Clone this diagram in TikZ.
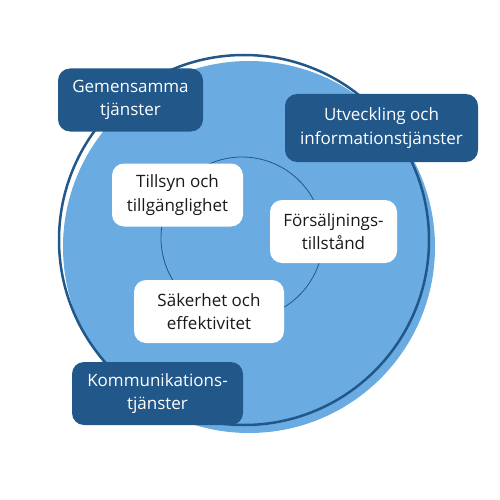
\documentclass[tikz,border=0pt]{standalone}
\usepackage{fontspec}
\setmainfont{Open Sans}
\usepackage{tikz}
\definecolor{darkblue}{HTML}{22578A}
\definecolor{lightblue}{HTML}{6AACE2}
\definecolor{textblack}{HTML}{1A1A1A}
\tikzset{
  areabox/.style={
    fill=darkblue,
    text=white,
    rounded corners=12pt,
    align=center,
    inner sep=0pt,
    minimum height=63pt,
    font=\fontsize{17}{23.5}\selectfont
  },
  corebox/.style={
    fill=white,
    text=textblack,
    rounded corners=12pt,
    align=center,
    inner sep=0pt,
    minimum height=63pt,
    font=\fontsize{17}{23.5}\selectfont
  }
}
\begin{document}
\begin{tikzpicture}[x=1pt,y=-1pt]
  \useasboundingbox (0,0) rectangle (500,500);
  % circles
  \fill[lightblue] (249,247) circle (186pt);
  \draw[darkblue, line width=2.5pt] (244,240) circle (185pt);
  \draw[darkblue, line width=0.8pt] (242,238) circle (81pt);
  % inner topics
  \node[corebox, minimum width=131pt] (tillsyn) at (177.5,195) {Tillsyn och\\tillgänglighet};
  \node[corebox, minimum width=127pt] (forsaljning) at (333.5,231.5) {Försäljnings-\\tillstånd};
  \node[corebox, minimum width=150pt] (sakerhet) at (209,311.5) {Säkerhet och\\effektivitet};
  % outer areas
  \node[areabox, minimum width=145pt] (gemensamma) at (130.5,100) {Gemensamma\\tjänster};
  \node[areabox, minimum width=193pt, minimum height=68pt] (utveckling) at (381.5,128) {Utveckling och\\informationstjänster};
  \node[areabox, minimum width=171pt] (kommunikation) at (157.5,393.5) {Kommunikations-\\tjänster};
\end{tikzpicture}
\end{document}
